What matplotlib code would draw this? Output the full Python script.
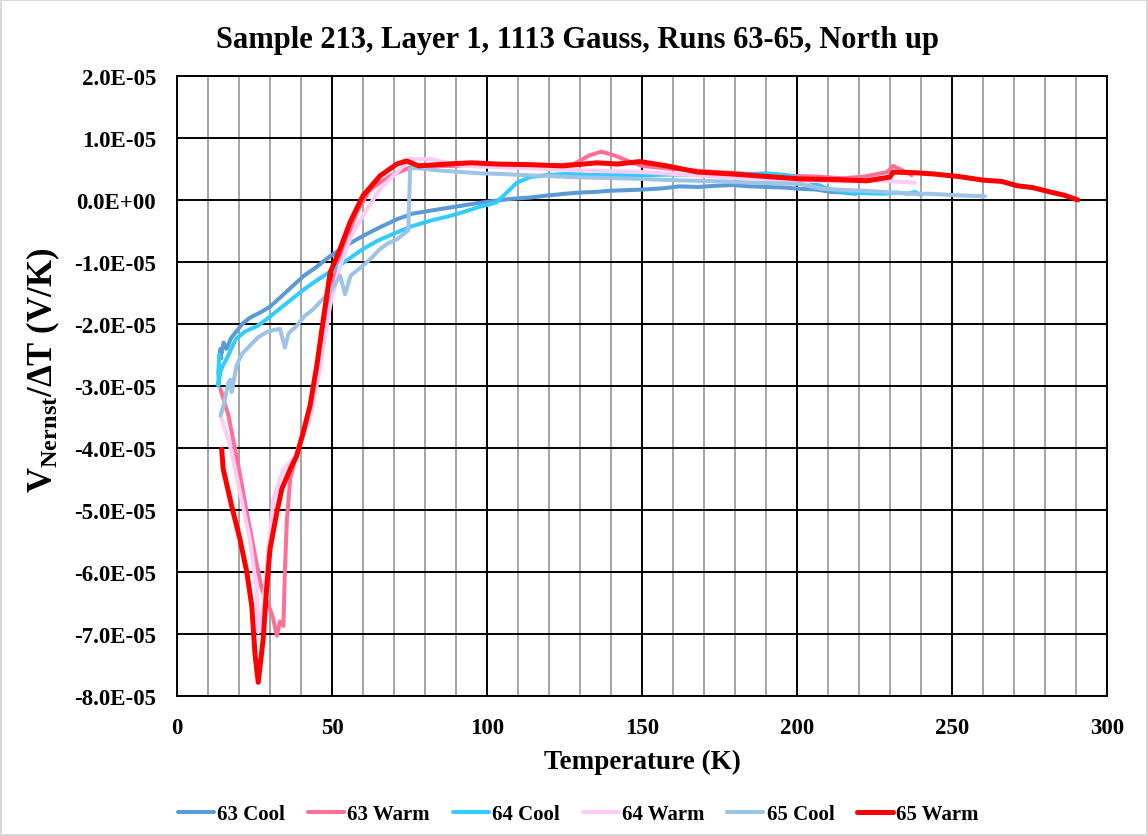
import matplotlib
matplotlib.use("Agg")
import matplotlib.pyplot as plt
from matplotlib.ticker import MultipleLocator, FuncFormatter

plt.rcParams['font.family'] = ['Liberation Serif', 'DejaVu Serif']
plt.rcParams['font.weight'] = 'bold'
plt.rcParams['mathtext.fontset'] = 'custom'
plt.rcParams['mathtext.rm'] = 'Liberation Serif:bold'
plt.rcParams['mathtext.bf'] = 'Liberation Serif:bold'
plt.rcParams['mathtext.it'] = 'Liberation Serif:bold'

# Nernst signal, units of 1E-05 V/K
t_63c = [219, 215, 211, 206, 201, 196, 190, 185, 179, 174, 168, 162, 157, 151, 146, 140, 135, 130, 125, 119, 114, 108, 103, 97, 92, 87, 82, 76, 71, 65, 60, 55, 49, 45, 41, 37, 34, 30, 27, 23.5, 21, 19, 17.5, 16, 15, 14.5, 14, 13.5, 14, 14.3]
v_63c = [0.10, 0.12, 0.13, 0.17, 0.18, 0.20, 0.21, 0.22, 0.24, 0.23, 0.21, 0.22, 0.19, 0.17, 0.16, 0.15, 0.13, 0.12, 0.10, 0.07, 0.04, 0.02, -0.01, -0.05, -0.09, -0.13, -0.17, -0.22, -0.31, -0.45, -0.58, -0.72, -0.92, -1.08, -1.22, -1.40, -1.54, -1.72, -1.81, -1.90, -2.00, -2.13, -2.22, -2.40, -2.30, -2.46, -2.40, -2.60, -2.45, -2.55]

t_63w = [14, 16.6, 19.8, 22.5, 25.2, 27.3, 30, 31, 32.2, 33.2, 34.3, 34.8, 35.4, 36.5, 38.1, 41, 43, 45, 47, 49.5, 52, 55, 58, 62, 66, 70, 75, 80, 90, 100, 110, 120, 128, 133, 137, 141, 146, 150, 160, 175, 190, 205, 215, 222, 229, 231, 234, 237]
v_63w = [-3.05, -3.48, -4.29, -5.04, -5.74, -6.27, -6.60, -6.75, -7.03, -6.80, -6.87, -6.00, -5.19, -4.50, -4.18, -3.70, -3.30, -2.80, -2.20, -1.50, -1.00, -0.60, -0.20, 0.15, 0.30, 0.42, 0.52, 0.55, 0.55, 0.58, 0.55, 0.55, 0.58, 0.72, 0.78, 0.72, 0.62, 0.55, 0.50, 0.45, 0.40, 0.38, 0.35, 0.38, 0.45, 0.55, 0.48, 0.40]

t_64c = [240, 238, 236, 232, 228, 222, 218, 214, 210, 207, 204, 200, 197, 193, 190, 185, 180, 170, 160, 150, 137, 125, 119, 114, 112, 109.6, 107, 105.3, 103, 97, 92, 87, 82, 76, 71, 65, 60, 54, 49, 45, 41, 37, 33, 29, 26, 22, 19, 17.5, 16, 14.5, 14, 13.3, 13.6, 13.4]
v_64c = [0.08, 0.13, 0.10, 0.12, 0.10, 0.11, 0.12, 0.14, 0.18, 0.24, 0.30, 0.36, 0.40, 0.42, 0.43, 0.42, 0.42, 0.40, 0.41, 0.40, 0.40, 0.42, 0.40, 0.37, 0.33, 0.28, 0.15, 0.07, -0.04, -0.12, -0.20, -0.27, -0.33, -0.42, -0.52, -0.65, -0.79, -1.00, -1.17, -1.30, -1.44, -1.60, -1.76, -1.92, -2.03, -2.12, -2.24, -2.40, -2.56, -2.70, -2.78, -3.00, -2.50, -2.80]

t_64w = [14.4, 17.1, 20.3, 23.5, 25.7, 26.2, 27.8, 29.5, 31.1, 34.3, 37.5, 40, 43, 46, 49.4, 52.6, 56, 60, 65.5, 71, 75, 82, 92, 110, 130, 150, 177, 201, 215, 228, 238]
v_64w = [-3.53, -3.96, -4.71, -5.47, -6.27, -6.97, -6.54, -5.63, -4.82, -4.34, -4.18, -3.90, -3.50, -2.75, -1.70, -1.06, -0.60, -0.25, 0.18, 0.45, 0.66, 0.66, 0.55, 0.52, 0.48, 0.45, 0.37, 0.31, 0.30, 0.31, 0.28]

t_65c = [260.6, 255, 250, 243, 237, 231, 225, 216, 208, 201, 193, 185, 176, 168, 159, 150, 143, 135, 127, 119, 112, 105, 98, 92, 86, 80, 76, 75.2, 74.6, 71, 68, 65.5, 63, 60, 56, 54.2, 52.6, 49.4, 47, 44, 41, 38.6, 36, 34.8, 33.2, 31, 29, 26, 23.5, 21, 19.2, 17.6, 17.2, 16.5, 15, 14]
v_65c = [0.06, 0.07, 0.08, 0.10, 0.10, 0.12, 0.14, 0.16, 0.18, 0.26, 0.27, 0.28, 0.30, 0.31, 0.32, 0.34, 0.35, 0.36, 0.37, 0.39, 0.40, 0.42, 0.43, 0.45, 0.47, 0.50, 0.52, 0.50, -0.49, -0.63, -0.70, -0.79, -0.92, -1.06, -1.22, -1.52, -1.22, -1.49, -1.60, -1.76, -1.88, -2.03, -2.15, -2.38, -2.08, -2.10, -2.13, -2.22, -2.35, -2.48, -2.67, -3.10, -2.90, -2.95, -3.32, -3.48]

t_65w = [14.4, 14.9, 17.6, 20.3, 22.5, 24.1, 25.2, 26.2, 27.8, 28.9, 30, 32.2, 33.8, 36.5, 38.6, 40.7, 42.9, 45.1, 47.2, 49.4, 52.6, 55.8, 60, 65.5, 70.9, 74, 78, 87, 95, 103, 114, 124.5, 135.5, 142, 149.4, 158, 168, 179, 190, 201, 212, 222.5, 230, 231, 238, 244, 252, 260, 266, 271, 276, 281.6, 286, 290.6]
v_65w = [-4.02, -4.34, -4.93, -5.47, -6.00, -6.54, -7.35, -7.78, -7.08, -6.27, -5.63, -5.04, -4.66, -4.34, -4.13, -3.75, -3.32, -2.67, -1.92, -1.17, -0.79, -0.36, 0.07, 0.39, 0.58, 0.63, 0.55, 0.58, 0.60, 0.58, 0.57, 0.55, 0.60, 0.58, 0.62, 0.55, 0.45, 0.42, 0.38, 0.34, 0.33, 0.31, 0.37, 0.45, 0.44, 0.42, 0.38, 0.32, 0.30, 0.23, 0.20, 0.13, 0.08, 0.00]

runs = ['63 Cool', '63 Warm', '64 Cool', '64 Warm', '65 Cool', '65 Warm']
temps = [t_63c, t_63w, t_64c, t_64w, t_65c, t_65w]
volts = [v_63c, v_63w, v_64c, v_64w, v_65c, v_65w]
colors = ['#5B9BD5', '#FF6F96', '#33CCFF', '#FFCCF5', '#9DC3E6', '#FF0000']
widths = [2.9, 2.9, 2.9, 2.9, 2.9, 3.6]

fig = plt.figure(figsize=(11.48, 8.37), dpi=100)
fig.patch.set_edgecolor('#D9D9D9')
fig.patch.set_linewidth(1.5)
ax = fig.add_axes([0.1542, 0.1673, 0.8101, 0.7407])

for t, v, c, w, name in zip(temps, volts, colors, widths, runs):
    ax.plot(t, [x * 1e-5 for x in v], color=c, lw=w, label=name,
            solid_joinstyle='round', solid_capstyle='round', zorder=3)

ax.set_xlim(0, 300)
ax.set_ylim(-8e-5, 2e-5)
ax.xaxis.set_major_locator(MultipleLocator(50))
ax.xaxis.set_minor_locator(MultipleLocator(10))
ax.yaxis.set_major_locator(MultipleLocator(1e-5))
ax.yaxis.set_major_formatter(FuncFormatter(lambda v, p: f"{v:.1E}"))
ax.grid(which='major', color='black', lw=1.4, zorder=1)
ax.grid(which='minor', axis='x', color='#8C8C8C', lw=1.1, zorder=1)
ax.tick_params(which='both', length=0, labelsize=16.5)
ax.tick_params(axis='y', pad=15)
ax.tick_params(axis='x', pad=15)
for s in ax.spines.values():
    s.set_color('black')
    s.set_linewidth(1.4)

fig.suptitle('Sample 213, Layer 1, 1113 Gauss, Runs 63-65, North up',
             x=0.503, y=0.952, va='center', fontsize=22, fontweight='bold')
ax.set_xlabel('Temperature (K)', fontsize=19.5, fontweight='bold', labelpad=8)
ax.set_ylabel(r'V$_{\mathrm{Nernst}}$/ΔT (V/K)', fontsize=25, fontweight='bold')
ax.yaxis.set_label_coords(-0.124, 0.527)

fig.legend(loc='center', bbox_to_anchor=(0.504, 0.026), ncol=6, frameon=False,
           fontsize=15, handlelength=1.73, handletextpad=0.15, columnspacing=1.1)

fig.savefig('out.png', dpi=100)
